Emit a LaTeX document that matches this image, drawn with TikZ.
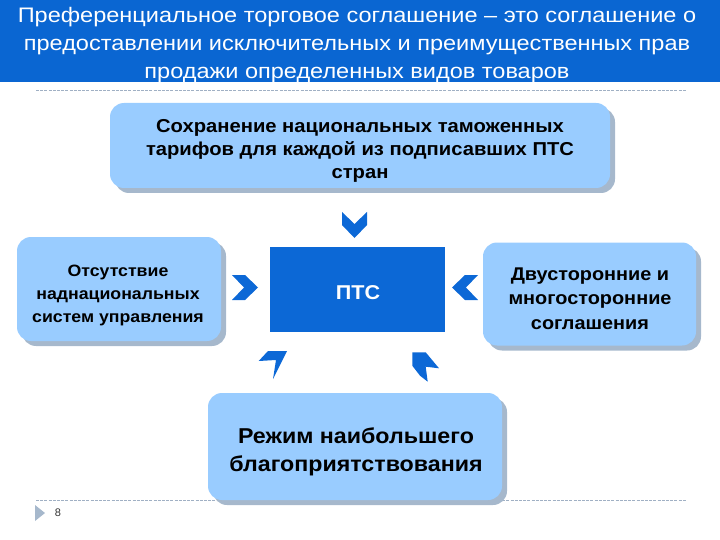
\documentclass[tikz,border=0pt]{standalone}
\usepackage{fontspec}
\setmainfont{Liberation Sans}
\newfontfamily\widesans[FakeStretch=1.08]{Liberation Sans}
\newfontfamily\headsans[FakeStretch=1.12]{Liberation Sans}
\usetikzlibrary{shadows}

\definecolor{hdrblue}{RGB}{10,102,210}
\definecolor{ptsblue}{RGB}{12,104,214}
\definecolor{boxblue}{RGB}{153,204,255}
\definecolor{shadowblue}{RGB}{166,184,204}
\definecolor{rulegray}{RGB}{160,176,196}

\tikzset{
  pbox/.style={rectangle, rounded corners=14pt, fill=boxblue, inner sep=0pt,
    drop shadow={shadow xshift=5pt, shadow yshift=-5pt, fill=shadowblue, opacity=1}},
  boxtext/.style={align=center, text=black, inner sep=0pt},
  chevron/.pic={
    \fill[ptsblue] (-12.5,-13) -- (0,-1) -- (12.5,-13) -- (12.5,0)
      -- (0,13) -- (-12.5,0) -- cycle;
  },
  dashrule/.style={rulegray, line width=0.8pt, dash pattern=on 3pt off 1.2pt},
}

\begin{document}
\begin{tikzpicture}[x=1pt, y=-1pt]
  \useasboundingbox (0,0) rectangle (720,540);

  % Header
  \fill[hdrblue] (0,0) rectangle (720,82);
  \node[text=white, align=center, font=\headsans\fontsize{21}{28}\selectfont]
    (title) at (357,45.5)
    {Преференциальное торговое соглашение – это соглашение о\\
     предоставлении исключительных и преимущественных прав\\
     продажи определенных видов товаров};
  \draw[dashrule] (36,90) -- (686,90);
  \draw[dashrule] (36,500) -- (686,500);

  % Blocks
  \node[pbox, minimum width=500pt, minimum height=85pt] (tariff) at (360,145.5) {};
  \node[boxtext, font=\widesans\bfseries\fontsize{18.7}{23}\selectfont]
    (tariff-txt) at (360,151)
    {Сохранение национальных таможенных\\
     тарифов для каждой из подписавших ПТС\\
     стран};
  \node[pbox, minimum width=204pt, minimum height=104pt] (nosupra) at (119,289) {};
  \node[boxtext, font=\widesans\bfseries\fontsize{16.4}{23}\selectfont]
    (nosupra-txt) at (118,295.5)
    {Отсутствие\\наднациональных\\систем управления};
  \node[pbox, minimum width=213pt, minimum height=103pt] (agree) at (589.5,294) {};
  \node[boxtext, font=\widesans\bfseries\fontsize{18.4}{24.5}\selectfont]
    (agree-txt) at (590,298.5)
    {Двусторонние и\\многосторонние\\соглашения};
  \node[pbox, minimum width=294pt, minimum height=107pt] (mfn) at (355,446.5) {};
  \node[boxtext, font=\widesans\bfseries\fontsize{21.5}{28}\selectfont]
    (mfn-txt) at (356,452)
    {Режим наибольшего\\благоприятствования};
  \node[fill=ptsblue, minimum width=175pt, minimum height=85pt, inner sep=0pt] (pts)
    at (357.5,289.5) {};
  \node[text=white, inner sep=0pt, font=\widesans\bfseries\fontsize{20}{22}\selectfont]
    (pts-txt) at (358,292.5) {ПТС};

  % Arrows
  \pic at (354.5,225) {chevron};
  \pic[rotate=90] at (245,287.5) {chevron};
  \pic[rotate=-90] at (465,287.5) {chevron};
  \fill[ptsblue] (258.7,361) -- (268,351) -- (287,351) -- (273,379)
    -- (276,360) -- cycle;
  \fill[ptsblue] (412.3,352.3) -- (425.7,352.3) -- (439,368.3) -- (425.7,366.7)
    -- (427.7,381.7) -- (420,375.7) -- (412.3,365.7) -- cycle;

  % Page number
  \fill[shadowblue] (35,505) -- (45,513) -- (35,521) -- cycle;
  \node[font=\fontsize{11}{13}\selectfont, text=black!80] (page) at (58,513) {8};
\end{tikzpicture}
\end{document}
